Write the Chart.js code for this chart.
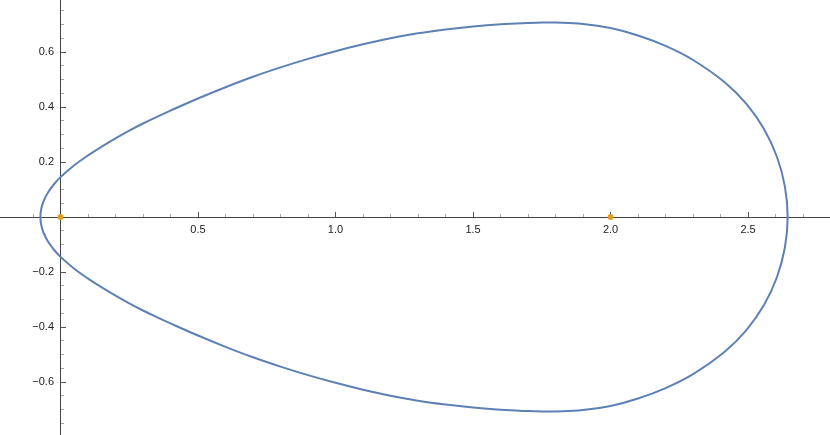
<!DOCTYPE html>
<html>
<head>
<meta charset="utf-8">
<script src="https://cdn.jsdelivr.net/npm/chart.js@4.4.1/dist/chart.umd.min.js"></script>
<style>
  html, body { margin: 0; padding: 0; background: #fff; }
  #wrap { width: 830px; height: 435px; }
</style>
</head>
<body>
<div id="wrap"><canvas id="chart"></canvas></div>
<script>
// closed curve, starting at the top, going clockwise
const curveX = [
  1.75, 1.8, 1.9, 2.0, 2.1, 2.2, 2.3, 2.415, 2.494, 2.558, 2.605, 2.634, 2.644,
  2.634, 2.605, 2.558, 2.494, 2.415, 2.3, 2.2, 2.1, 2.0, 1.9, 1.8, 1.75,
  1.7, 1.6, 1.5, 1.4, 1.3, 1.2, 1.1, 1.0, 0.9, 0.8, 0.7, 0.6, 0.5, 0.4, 0.35, 0.3, 0.25, 0.2,
  0.15, 0.1, 0.05, 0.0, -0.023, -0.045, -0.0605, -0.070, -0.073,
  -0.070, -0.0605, -0.045, -0.023, 0.0, 0.05, 0.1, 0.15, 0.2, 0.25, 0.3, 0.35, 0.4, 0.5, 0.6,
  0.7, 0.8, 0.9, 1.0, 1.1, 1.2, 1.3, 1.4, 1.5, 1.6, 1.7, 1.75
];
const curveY = [
  0.7072, 0.7070, 0.7020, 0.687, 0.660, 0.622, 0.571, 0.490, 0.411, 0.320, 0.219, 0.111, 0.000,
  -0.111, -0.219, -0.320, -0.411, -0.490, -0.571, -0.622, -0.660, -0.687, -0.7020, -0.7070, -0.7072,
  -0.7058, -0.701, -0.693, -0.682, -0.668, -0.650, -0.628, -0.603, -0.575, -0.544, -0.510, -0.472, -0.431, -0.387, -0.364, -0.340, -0.314, -0.286,
  -0.256, -0.224, -0.188, -0.145, -0.120, -0.090, -0.060, -0.030, 0.000,
  0.030, 0.060, 0.090, 0.120, 0.145, 0.188, 0.224, 0.256, 0.286, 0.314, 0.340, 0.364, 0.387, 0.431, 0.472,
  0.510, 0.544, 0.575, 0.603, 0.628, 0.650, 0.668, 0.682, 0.693, 0.701, 0.7058, 0.7072
];
const fociX = [0, 2];
const fociY = [0, 0];

const xTickValues = [-0.1, 0, 0.1, 0.2, 0.3, 0.4, 0.5, 0.6, 0.7, 0.8, 0.9, 1.0, 1.1, 1.2, 1.3, 1.4,
  1.5, 1.6, 1.7, 1.8, 1.9, 2.0, 2.1, 2.2, 2.3, 2.4, 2.5, 2.6, 2.7];
const xLabelValues = [0.5, 1.0, 1.5, 2.0, 2.5];
const yTickValues = [-0.75, -0.7, -0.65, -0.6, -0.55, -0.5, -0.45, -0.4, -0.35, -0.3, -0.25, -0.2,
  -0.15, -0.1, -0.05, 0, 0.05, 0.1, 0.15, 0.2, 0.25, 0.3, 0.35, 0.4, 0.45, 0.5, 0.55, 0.6, 0.65, 0.7, 0.75];
const yLabelValues = [-0.6, -0.4, -0.2, 0.2, 0.4, 0.6];

const xRange = [-0.22, 2.798];
const yRange = [-0.7927, 0.7891];
// y labels sit a few pixels left of the y axis (chart.js ignores padding for axes placed at a value)
const yLabelAnchor = -0.0236;

function isLabel(list, v) {
  return list.some(l => Math.abs(l - v) < 1e-6);
}

// Mathematica style axes: lines through the origin, ticks pointing up / right
const axesPlugin = {
  id: 'mmaAxes',
  beforeDatasetsDraw(chart) {
    const {ctx, chartArea, scales: {x, y}} = chart;
    const x0 = Math.floor(x.getPixelForValue(0)) + 0.5;
    const y0 = Math.floor(y.getPixelForValue(0)) + 0.5;
    ctx.save();
    ctx.lineWidth = 1;

    xTickValues.forEach(v => {
      if (v === 0) return;
      const px = Math.floor(x.getPixelForValue(v)) + 0.5;
      const major = isLabel(xLabelValues, v);
      ctx.strokeStyle = major ? '#555' : '#a8a8a8';
      ctx.beginPath();
      ctx.moveTo(px, y0);
      ctx.lineTo(px, y0 - (major ? 5.5 : 3.5));
      ctx.stroke();
    });
    yTickValues.forEach(v => {
      if (v === 0) return;
      const py = Math.floor(y.getPixelForValue(v)) + 0.5;
      const major = isLabel(yLabelValues, v);
      ctx.strokeStyle = major ? '#555' : '#a8a8a8';
      ctx.beginPath();
      ctx.moveTo(x0, py);
      ctx.lineTo(x0 + (major ? 5.5 : 3.5), py);
      ctx.stroke();
    });

    ctx.strokeStyle = '#444';
    ctx.beginPath();
    ctx.moveTo(chartArea.left, y0);
    ctx.lineTo(chartArea.right, y0);
    ctx.moveTo(x0, chartArea.top);
    ctx.lineTo(x0, chartArea.bottom);
    ctx.stroke();
    ctx.restore();
  }
};

function noPadding(scale) {
  scale.paddingTop = 0;
  scale.paddingBottom = 0;
  scale.paddingLeft = 0;
  scale.paddingRight = 0;
}

new Chart(document.getElementById('chart'), {
  type: 'scatter',
  data: {
    datasets: [
      {
        label: 'curve',
        data: curveX.map((v, i) => ({x: v, y: curveY[i]})),
        showLine: true,
        borderColor: '#5e81b5',
        borderWidth: 2,
        pointRadius: 0,
        tension: 0.4,
        fill: false
      },
      {
        label: 'foci',
        data: fociX.map((v, i) => ({x: v, y: fociY[i]})),
        pointRadius: 3,
        pointBackgroundColor: '#e19c24',
        pointBorderWidth: 0,
        showLine: false
      }
    ]
  },
  options: {
    responsive: true,
    maintainAspectRatio: false,
    animation: false,
    layout: { padding: 0, autoPadding: false },
    plugins: {
      legend: { display: false },
      tooltip: { enabled: false }
    },
    scales: {
      x: {
        type: 'linear',
        min: xRange[0],
        max: xRange[1],
        position: { y: 0 },
        afterBuildTicks: scale => { scale.ticks = xLabelValues.map(v => ({value: v})); },
        afterFit: noPadding,
        grid: { display: false, drawTicks: false },
        border: { display: false },
        ticks: {
          autoSkip: false,
          maxRotation: 0,
          padding: 6,
          color: '#222',
          font: { family: 'Liberation Sans, Arial, sans-serif', size: 11 },
          callback: v => v.toFixed(1)
        }
      },
      y: {
        type: 'linear',
        min: yRange[0],
        max: yRange[1],
        position: { x: yLabelAnchor },
        afterBuildTicks: scale => { scale.ticks = yLabelValues.map(v => ({value: v})); },
        afterFit: noPadding,
        grid: { display: false, drawTicks: false },
        border: { display: false },
        ticks: {
          autoSkip: false,
          padding: 0,
          color: '#222',
          font: { family: 'Liberation Sans, Arial, sans-serif', size: 11 },
          callback: v => (v < 0 ? '\u2212' : '') + Math.abs(v).toFixed(1)
        }
      }
    }
  },
  plugins: [axesPlugin]
});
</script>
</body>
</html>
